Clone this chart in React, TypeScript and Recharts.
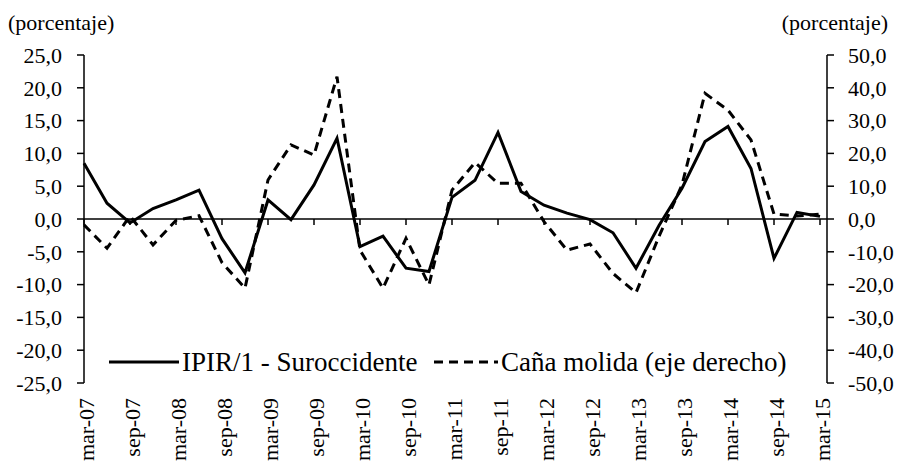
import { LineChart, Line, XAxis, YAxis, ReferenceLine, Legend } from "recharts";

const FONT = "Liberation Serif, Tinos, DejaVu Serif, Times New Roman, serif";

// trimestres mar-07 .. mar-15
const QUARTERS = [
  "mar-07", "jun-07", "sep-07", "dic-07",
  "mar-08", "jun-08", "sep-08", "dic-08",
  "mar-09", "jun-09", "sep-09", "dic-09",
  "mar-10", "jun-10", "sep-10", "dic-10",
  "mar-11", "jun-11", "sep-11", "dic-11",
  "mar-12", "jun-12", "sep-12", "dic-12",
  "mar-13", "jun-13", "sep-13", "dic-13",
  "mar-14", "jun-14", "sep-14", "dic-14",
  "mar-15",
];

// IPIR/1 - Suroccidente (eje izquierdo)
const IPIR = [
  8.5, 2.4, -0.6, 1.6, 2.9, 4.4, -3.0, -8.2,
  2.9, -0.1, 5.2, 12.3, -4.2, -2.6, -7.5, -8.0,
  3.3, 5.9, 13.2, 4.2, 2.1, 0.9, -0.1, -2.1,
  -7.5, -1.0, 4.7, 11.8, 14.1, 7.7, -6.0, 1.0,
  0.4,
];

// Caña molida (eje derecho)
const CANA = [
  -1.8, -8.9, 0.9, -7.9, -0.4, 1.0, -13.3, -21.1,
  11.9, 22.6, 19.5, 43.4, -9.5, -21.1, -5.9, -20.1,
  8.8, 17.2, 10.9, 10.9, -0.8, -9.5, -7.6, -16.6,
  -22.5, -5.3, 10.4, 38.3, 33.2, 24.1, 1.5, 0.9,
  1.5,
];

const LEFT_TICKS = [-25, -20, -15, -10, -5, 0, 5, 10, 15, 20, 25];
const RIGHT_TICKS = [-50, -40, -30, -20, -10, 0, 10, 20, 30, 40, 50];
const SERIES_NAMES = ["IPIR/1 - Suroccidente", "Caña molida (eje derecho)"];

const data = QUARTERS.map((q, i) => ({ q, ipir: IPIR[i], cana: CANA[i] }));
const zeroTicks = QUARTERS.filter((_, i) => i % 2 === 0);

const fmt = (v: number) => v.toFixed(1).replace(".", ",");

function XTick({ x, y, payload }: any) {
  return (
    <text
      x={0}
      y={0}
      transform={`translate(${x + 10},${y + 15}) rotate(-90)`}
      textAnchor="end"
      fontSize={22}
      fill="#000"
      style={{ fontFamily: FONT }}
    >
      {payload.value}
    </text>
  );
}

function LegendBox({ payload }: any) {
  const items = [...(payload ?? [])].sort(
    (a: any, b: any) => SERIES_NAMES.indexOf(a.value) - SERIES_NAMES.indexOf(b.value)
  );
  return (
    <div
      style={{
        display: "flex",
        alignItems: "center",
        fontFamily: FONT,
        fontSize: 27,
        lineHeight: "30px",
        color: "#000",
        whiteSpace: "nowrap",
      }}
    >
      {items.map((entry: any, i: number) => (
        <div
          key={entry.value}
          style={{ display: "flex", alignItems: "center", width: i === 0 ? 325 : undefined }}
        >
          <svg width={i === 0 ? 72 : 66} height={12}>
            <line
              x1={1}
              y1={6}
              x2={i === 0 ? 71 : 65}
              y2={6}
              stroke="#000"
              strokeWidth={3}
              strokeDasharray={entry.payload?.strokeDasharray}
            />
          </svg>
          <span style={{ marginLeft: 2 }}>{entry.value}</span>
        </div>
      ))}
    </div>
  );
}

export default function App() {
  const axisStroke = { stroke: "#000", strokeWidth: 1.5 };
  const tickStyle = { fill: "#000", fontSize: 22, style: { fontFamily: FONT } };
  return (
    <div
      style={{
        position: "absolute",
        left: 0,
        top: 0,
        width: 901,
        height: 466,
        background: "#fff",
        fontFamily: FONT,
      }}
    >
      <div style={{ position: "absolute", left: 8, top: 10, fontSize: 22 }}>(porcentaje)</div>
      <div style={{ position: "absolute", right: 13, top: 10, fontSize: 22 }}>(porcentaje)</div>
      <LineChart
        width={901}
        height={466}
        data={data}
        margin={{ top: 55, right: 0, bottom: 0, left: 0 }}
        style={{ fontFamily: FONT }}
      >
        <XAxis
          dataKey="q"
          height={83}
          interval={1}
          tickLine={false}
          axisLine={false}
          tickSize={0}
          tickMargin={0}
          padding={{ left: 0, right: 7 }}
          tick={<XTick />}
        />
        <YAxis
          yAxisId="left"
          width={84}
          domain={[-25, 25]}
          ticks={LEFT_TICKS}
          tickFormatter={fmt}
          tickSize={7}
          tickMargin={15}
          axisLine={axisStroke}
          tickLine={axisStroke}
          tick={tickStyle}
        />
        <YAxis
          yAxisId="right"
          orientation="right"
          width={74}
          domain={[-50, 50]}
          ticks={RIGHT_TICKS}
          tickFormatter={fmt}
          tickSize={7}
          tickMargin={14}
          axisLine={axisStroke}
          tickLine={axisStroke}
          tick={tickStyle}
        />
        <ReferenceLine yAxisId="left" y={0} stroke="#000" strokeWidth={1.5} />
        {zeroTicks.map((q) => (
          <ReferenceLine
            key={q}
            yAxisId="left"
            segment={[
              { x: q, y: 0 },
              { x: q, y: -0.9 },
            ]}
            stroke="#000"
            strokeWidth={1.5}
          />
        ))}
        <Line
          yAxisId="left"
          dataKey="ipir"
          name={SERIES_NAMES[0]}
          type="linear"
          stroke="#000"
          strokeWidth={3}
          dot={false}
          activeDot={false}
          isAnimationActive={false}
        />
        <Line
          yAxisId="right"
          dataKey="cana"
          name={SERIES_NAMES[1]}
          type="linear"
          stroke="#000"
          strokeWidth={3}
          strokeDasharray="9 6"
          dot={false}
          activeDot={false}
          isAnimationActive={false}
        />
        <Legend
          layout="horizontal"
          align="center"
          verticalAlign="middle"
          wrapperStyle={{ left: 108, top: 347, width: 720 }}
          content={<LegendBox />}
        />
      </LineChart>
    </div>
  );
}
